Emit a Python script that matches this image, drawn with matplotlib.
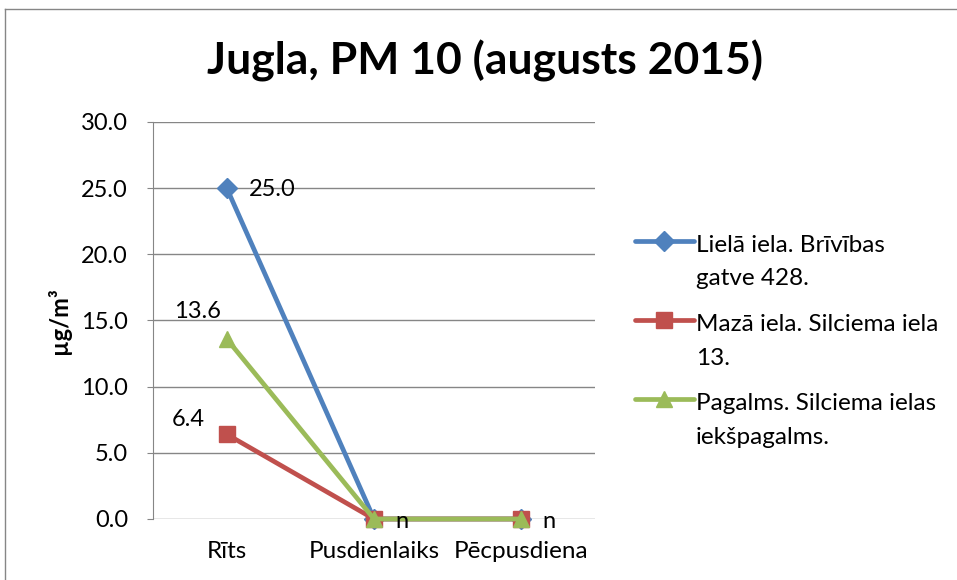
import matplotlib
matplotlib.use("Agg")
import numpy as np
import matplotlib.pyplot as plt
from matplotlib.lines import Line2D
from matplotlib.legend_handler import HandlerLine2D

plt.rcParams['font.family'] = ['Lato', 'DejaVu Sans']

categories = ["Rīts", "Pusdienlaiks", "Pēcpusdiena"]
series_names = ["Lielā iela. Brīvības\ngatve 428.",
                "Mazā iela. Silciema iela\n13.",
                "Pagalms. Silciema ielas\niekšpagalms."]
lielā = [25.0, 0.0, 0.0]
mazā = [6.4, 0.0, 0.0]
pagalms = [13.6, 0.0, 0.0]
yticks = [0, 5, 10, 15, 20, 25, 30]

colors = ["#4F81BD", "#C0504D", "#9BBB59"]
markers = ["D", "s", "^"]
msizes = [10, 11, 12]

fig = plt.figure(figsize=(9.57, 5.8), dpi=100)
ax = fig.add_axes([0.16, 0.1052, 0.4617, 0.6845])

x = list(range(len(categories)))
lines = []
for vals, c, m, ms, name in zip([lielā, mazā, pagalms], colors, markers, msizes, series_names):
    ln, = ax.plot(x, vals, color=c, lw=3.4, marker=m, markersize=ms, label=name,
                  solid_capstyle='round', zorder=3, clip_on=False)
    lines.append(ln)

fs = 17
ax.annotate(f"{lielā[0]:.1f}", (x[0], lielā[0]), xytext=(16, -1), textcoords='offset points',
            ha='left', va='center', fontsize=fs)
ax.annotate(f"{pagalms[0]:.1f}", (x[0], pagalms[0]), xytext=(-21, 20), textcoords='offset points',
            ha='center', va='center', fontsize=fs)
ax.annotate(f"{mazā[0]:.1f}", (x[0], mazā[0]), xytext=(-28, 11), textcoords='offset points',
            ha='center', va='center', fontsize=fs)
for i in (1, 2):
    ax.annotate("n", (x[i], mazā[i]), xytext=(15, -2), textcoords='offset points',
                ha='left', va='center', fontsize=fs)

ax.set_xlim(-0.5, 2.5)
ax.set_ylim(0, 30)
ax.set_yticks(yticks)
ax.set_yticklabels([f"{v:.1f}" for v in yticks], fontsize=fs)
ax.set_xticks(x)
ax.set_xticklabels(categories, fontsize=17.5)
ax.yaxis.grid(True, color="#868686", lw=1)
ax.set_axisbelow(True)
for s in ("top", "right", "bottom"):
    ax.spines[s].set_visible(False)
ax.spines["left"].set_color("#868686")
ax.tick_params(axis='y', length=4, color="#868686", pad=14)
ax.tick_params(axis='x', length=0, pad=16)
ax.set_ylabel("µg/m³", fontsize=17, fontweight='bold', labelpad=7)

fig.suptitle("Jugla, PM 10 (augusts 2015)", x=0.507, y=0.932, fontsize=32, fontweight='bold')


class UpHandler(HandlerLine2D):
    def __init__(self, shift, **kw):
        super().__init__(**kw)
        self.shift = shift

    def create_artists(self, legend, orig_handle, xdescent, ydescent, width, height,
                       fontsize, trans):
        arts = super().create_artists(legend, orig_handle, xdescent, ydescent, width,
                                      height, fontsize, trans)
        for a in arts:
            a.set_ydata(np.asarray(a.get_ydata(), dtype=float) + self.shift * fontsize)
        return arts


lfs = 17.5
lsp = 1.75
leg = fig.legend(handles=lines, loc='upper left', bbox_to_anchor=(0.641, 0.633), frameon=False,
                 fontsize=lfs, handlelength=2.4, handletextpad=0.08, labelspacing=1.0,
                 handler_map={Line2D: UpHandler(0.5 * lsp)})
for t in leg.get_texts():
    t.set_linespacing(lsp)

# outer chart border
fig.add_artist(Line2D([0.005, 0.005], [0, 0.985], transform=fig.transFigure, color="#868686", lw=1))
fig.add_artist(Line2D([0.005, 1.0], [0.985, 0.985], transform=fig.transFigure, color="#868686", lw=1))

fig.savefig("out.png", dpi=100)
